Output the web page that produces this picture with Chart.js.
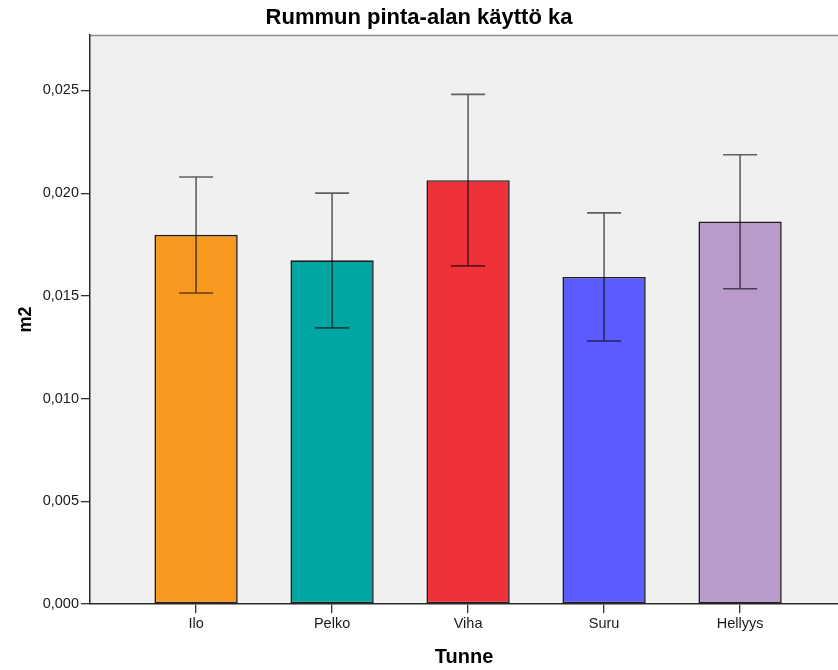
<!DOCTYPE html>
<html>
<head>
<meta charset="utf-8">
<script src="https://cdn.jsdelivr.net/npm/chart.js@4/dist/chart.umd.min.js"></script>
<style>
  html, body { margin:0; padding:0; background:#fff; }
  canvas { display:block; }
</style>
</head>
<body>
<canvas id="chart" width="838" height="670"></canvas>
<script>
// ---- data ----
var categories = ['Ilo', 'Pelko', 'Viha', 'Suru', 'Hellyys'];
var means      = [0.01797, 0.01673, 0.02063, 0.01592, 0.01862];
var errLow     = [0.01514, 0.01344, 0.01646, 0.01280, 0.01535];
var errHigh    = [0.02079, 0.02000, 0.02481, 0.01904, 0.02187];
var barColors  = ['#F7991E', '#00A6A2', '#EF3139', '#5B5BFF', '#B89BCA'];
var yTicks     = [0, 0.005, 0.010, 0.015, 0.020, 0.025];

var FONT = "'Liberation Sans', Arial, sans-serif";

// grey plot background + top frame line
var plotBg = {
  id: 'plotBg',
  beforeDraw: function(chart) {
    var a = chart.chartArea, ctx = chart.ctx;
    ctx.save();
    ctx.fillStyle = '#F0F0F0';
    ctx.fillRect(a.left, a.top, a.right - a.left, a.bottom - a.top);
    ctx.strokeStyle = '#8a8a8a';
    ctx.lineWidth = 1.5;
    ctx.beginPath();
    ctx.moveTo(a.left, a.top + 0.5);
    ctx.lineTo(a.right, a.top + 0.5);
    ctx.stroke();
    ctx.restore();
  }
};

// error bars drawn through the y scale
var errorBars = {
  id: 'errorBars',
  afterDatasetsDraw: function(chart) {
    var ctx = chart.ctx, ys = chart.scales.y;
    var meta = chart.getDatasetMeta(0);
    ctx.save();
    ctx.strokeStyle = 'rgba(0,0,0,0.6)';
    ctx.lineWidth = 1.6;
    meta.data.forEach(function(bar, i) {
      var x = bar.x, cap = 17;
      var yHi = ys.getPixelForValue(errHigh[i]);
      var yLo = ys.getPixelForValue(errLow[i]);
      ctx.beginPath();
      ctx.moveTo(x, yHi); ctx.lineTo(x, yLo);
      ctx.moveTo(x - cap, yHi); ctx.lineTo(x + cap, yHi);
      ctx.moveTo(x - cap, yLo); ctx.lineTo(x + cap, yLo);
      ctx.stroke();
    });
    ctx.restore();
  }
};

new Chart(document.getElementById('chart'), {
  type: 'bar',
  data: {
    datasets: [{
      data: means.map(function(v, i) { return { x: i, y: v }; }),
      backgroundColor: barColors,
      borderColor: '#1e1e1e',
      borderWidth: 1.6,
      borderSkipped: false,
      categoryPercentage: 1,
      barPercentage: 0.6125
    }]
  },
  options: {
    responsive: false,
    animation: false,
    layout: { padding: 0 },
    plugins: {
      legend: { display: false },
      tooltip: { enabled: false },
      title: {
        display: true,
        text: 'Rummun pinta-alan käyttö ka',
        color: '#000',
        font: { family: FONT, size: 22, weight: 'bold' },
        padding: { top: 5, bottom: 3.6 }
      }
    },
    scales: {
      x: {
        type: 'linear',
        offset: false,
        min: -0.78,
        max: 4.72,
        afterFit: function(s) { s.height = 66; },
        grid: { display: true, drawOnChartArea: false, offset: false, tickLength: 9, color: '#333', lineWidth: 1.3 },
        border: { display: true, color: '#2b2b2b', width: 1.5 },
        ticks: {
          stepSize: 1,
          includeBounds: false,
          autoSkip: false,
          maxRotation: 0,
          padding: 2,
          color: '#1a1a1a',
          font: { family: FONT, size: 14.5 },
          callback: function(v) { return categories[v] !== undefined ? categories[v] : ''; }
        },
        title: {
          display: true,
          text: 'Tunne',
          color: '#000',
          font: { family: FONT, size: 20, weight: 'bold' },
          padding: { top: 0, bottom: 1 }
        }
      },
      y: {
        min: 0,
        max: 0.0277,
        afterFit: function(s) { s.width = 90; },
        afterBuildTicks: function(s) { s.ticks = yTicks.map(function(v) { return { value: v }; }); },
        grid: { display: true, drawOnChartArea: false, tickLength: 9, color: '#333', lineWidth: 1.3 },
        border: { display: true, color: '#2b2b2b', width: 1.5 },
        ticks: {
          padding: 2,
          color: '#1a1a1a',
          font: { family: FONT, size: 14.5 },
          callback: function(v) { return v.toFixed(3).replace('.', ','); }
        },
        title: {
          display: true,
          text: 'm2',
          color: '#000',
          font: { family: FONT, size: 18, weight: 'bold' },
          padding: { top: 15, bottom: 0 }
        }
      }
    }
  },
  plugins: [plotBg, errorBars]
});
</script>
</body>
</html>
